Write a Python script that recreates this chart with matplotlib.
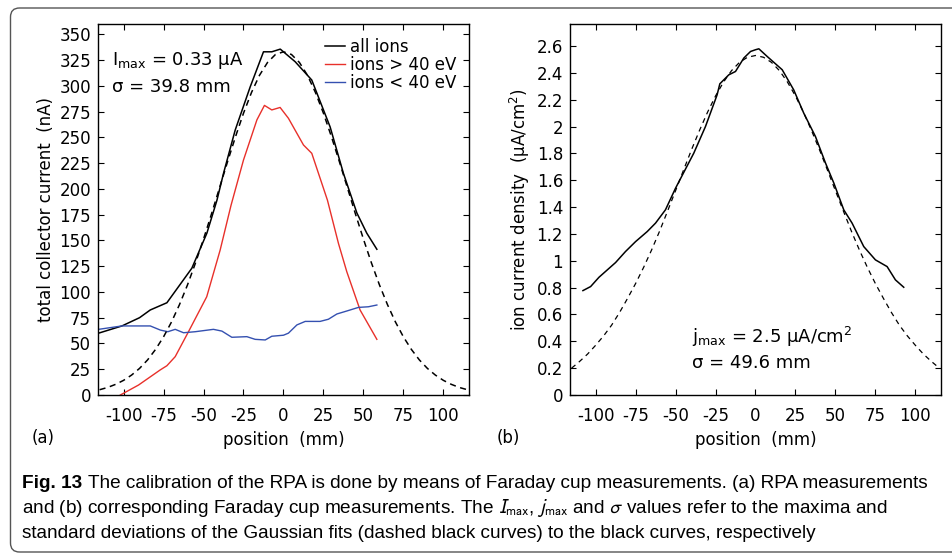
import matplotlib
matplotlib.use("Agg")
import matplotlib.pyplot as plt
from matplotlib.patches import FancyBboxPatch
from matplotlib.transforms import IdentityTransform

# ---- panel (a): RPA measurements ----
a_all_x = [-115.6, -101, -90, -83.3, -72.9, -57.3, -47.9, -41.6, -37.5, -30.2, -20.8,
           -12.5, -7.3, -2, 7.3, 17.7, 29.2, 37.5, 45.9, 52.1, 58.4]
a_all_y = [60, 67, 75, 82.5, 89.5, 123, 157, 189, 215, 257, 299,
           333, 333, 335.6, 323.4, 305.6, 260, 215, 176.6, 157, 141.4]

a_hi_x = [-102, -90.6, -77.1, -72.9, -67.7, -59.4, -48, -39.6, -32.8, -25, -16.6, -11.9,
          -7.3, -2.1, 3.1, 12.5, 17.7, 27.5, 34.4, 39.6, 47.9, 58.4]
a_hi_y = [0, 9.7, 24.3, 28.4, 37.2, 61.4, 95.3, 140.6, 184, 228, 267, 281,
          276.6, 279, 268.5, 242.6, 234.5, 189, 147, 119.6, 82.5, 54]

a_lo_x = [-115.6, -101, -83.3, -77, -72.3, -67.7, -62.5, -55.2, -43.8, -38.5, -32.3,
          -22.9, -17.7, -11.4, -7.3, 0, 3.1, 8.4, 13.6, 22.9, 28.1, 33.4, 39.6, 46.9,
          53.1, 58.4]
a_lo_y = [63.7, 67, 67, 63, 61.4, 63.7, 60.4, 61.4, 63.7, 62, 56,
          56.6, 54, 53.4, 57, 58, 60, 68, 71.4, 71.4, 73.5, 78.6, 81.5, 85,
          85.6, 87.3]

fit_x = [-115, -110, -105, -100, -95, -90, -85, -80, -75, -70, -65, -60, -55, -50,
         -45, -40, -35, -30, -25, -20, -15, -10, -5, 0, 5, 10, 15, 20, 25, 30, 35,
         40, 45, 50, 55, 60, 65, 70, 75, 80, 85, 90, 95, 100, 105, 110, 115]
a_fit_y = [5.1, 7.3, 10.3, 14.2, 19.3, 25.8, 34.0, 44.2, 56.4, 70.9, 87.8, 106.9, 128.2,
           151.3, 175.7, 201.0, 226.2, 250.6, 273.4, 293.5, 310.2, 322.6, 330.4, 333,
           330.4, 322.6, 310.2, 293.5, 273.4, 250.6, 226.2, 201.0, 175.7, 151.3, 128.2,
           106.9, 87.8, 70.9, 56.4, 44.2, 34.0, 25.8, 19.3, 14.2, 10.3, 7.3, 5.1]

# ---- panel (b): Faraday cup measurements ----
b_x = [-107.9, -103.1, -97.9, -87.5, -81.3, -75, -67.7, -62.5, -56.3, -50, -38.6, -31.3,
       -24, -22.3, -16.7, -12.5, -7.3, -3.1, 0, 2.1, 7.3, 16.7, 23.9, 30.2, 37.5, 43.8,
       49, 55.2, 60.4, 67.7, 75, 82.3, 87.5, 92.7]
b_y = [0.778, 0.808, 0.877, 0.987, 1.069, 1.143, 1.218, 1.281, 1.380, 1.541, 1.802, 2.0,
       2.237, 2.319, 2.386, 2.411, 2.511, 2.560, 2.573, 2.58, 2.523, 2.424, 2.274, 2.100,
       1.926, 1.728, 1.579, 1.380, 1.281, 1.106, 1.007, 0.957, 0.858, 0.803]
b_fit_y = [0.2, 0.25, 0.305, 0.37, 0.44, 0.52, 0.615, 0.72, 0.83, 0.95, 1.08, 1.22,
           1.37, 1.522, 1.676, 1.828, 1.972, 2.107, 2.228, 2.332, 2.417, 2.479, 2.517,
           2.53, 2.517, 2.479, 2.417, 2.332, 2.228, 2.107, 1.972, 1.828, 1.676, 1.522,
           1.37, 1.22, 1.08, 0.95, 0.83, 0.72, 0.615, 0.52, 0.44, 0.37, 0.305, 0.25,
           0.2]

xticks = [-100, -75, -50, -25, 0, 25, 50, 75, 100]
a_yticks = list(range(0, 351, 25))
b_yticks = [0, 0.2, 0.4, 0.6, 0.8, 1, 1.2, 1.4, 1.6, 1.8, 2, 2.2, 2.4, 2.6]

fs = 12
afs = 13
plt.rcParams['font.family'] = 'DejaVu Sans'

fig = plt.figure(figsize=(9.53, 5.55), dpi=100)
axa = fig.add_axes([0.1028, 0.2883, 0.3893, 0.6685])
axb = fig.add_axes([0.5981, 0.2883, 0.3893, 0.6685])

for ax in (axa, axb):
    ax.set_xlim(-116, 116)
    ax.set_xticks(xticks)
    ax.set_xticklabels([str(t) for t in xticks])
    ax.tick_params(direction='in', top=True, right=True, length=4, width=0.8,
                   labelsize=fs)
    ax.tick_params(axis='x', pad=9)
    ax.tick_params(axis='y', pad=5)
    ax.set_xlabel('position  (mm)', fontsize=fs, labelpad=4)
    for s in ax.spines.values():
        s.set_linewidth(1.0)

axa.plot(a_all_x, a_all_y, color='black', lw=1.1, label='all ions')
axa.plot(a_hi_x, a_hi_y, color='#e8302a', lw=1.0, label='ions > 40 eV')
axa.plot(a_lo_x, a_lo_y, color='#3450b0', lw=1.0, label='ions < 40 eV')
axa.plot(fit_x, a_fit_y, color='black', lw=1.1, ls=(0, (4, 3)))
axa.set_ylim(0, 360)
axa.set_yticks(a_yticks)
axa.set_ylabel('total collector current  (nA)', fontsize=fs, labelpad=3)
axa.legend(loc='upper right', bbox_to_anchor=(0.975, 0.972), frameon=False, fontsize=12,
           handlelength=1.2, handletextpad=0.3, labelspacing=0.0,
           borderaxespad=0.0, borderpad=0.2)
axa.text(0.038, 0.889, r'I$_{\rm max}$ = 0.33 µA', transform=axa.transAxes,
         fontsize=afs, va='baseline', ha='left', math_fontfamily='dejavusans')
axa.text(0.038, 0.817, 'σ = 39.8 mm', transform=axa.transAxes,
         fontsize=afs, va='baseline', ha='left')

axb.plot(b_x, b_y, color='black', lw=1.1)
axb.plot(fit_x, b_fit_y, color='black', lw=0.9, ls=(0, (4, 3.5)))
axb.set_ylim(0, 2.765)
axb.set_yticks(b_yticks)
axb.set_yticklabels(['%g' % t for t in b_yticks])
axb.set_ylabel('ion current density  (µA/cm$^2$)', fontsize=fs, labelpad=3,
               math_fontfamily='dejavusans')
axb.text(0.328, 0.141, r'j$_{\rm max}$ = 2.5 µA/cm$^2$', transform=axb.transAxes,
         fontsize=afs, va='baseline', ha='left', math_fontfamily='dejavusans')
axb.text(0.328, 0.072, 'σ = 49.6 mm', transform=axb.transAxes,
         fontsize=afs, va='baseline', ha='left')

fig.text(32 / 953, 1 - 438 / 555, '(a)', fontsize=fs, va='center', ha='left')
fig.text(497 / 953, 1 - 438 / 555, '(b)', fontsize=fs, va='center', ha='left')

# caption
cap_font = ['Liberation Sans', 'DejaVu Sans']
cfs = 13.7
t0 = fig.text(22 / 953, 1 - 483 / 555, 'Fig. 13', fontsize=cfs, fontweight='bold',
              family=cap_font, va='center', ha='left')
axa.annotate('The calibration of the RPA is done by means of Faraday cup measurements. '
             '(a) RPA measurements', xy=(1, 0), xycoords=t0, xytext=(4, 0),
             textcoords='offset points', va='bottom', ha='left', fontsize=cfs,
             family=cap_font, annotation_clip=False)
fig.text(22 / 953, 1 - 508 / 555,
         r'and (b) corresponding Faraday cup measurements. The $I_{\mathrm{max}}$, '
         r'$j_{\mathrm{max}}$ and $\sigma$ values refer to the maxima and',
         fontsize=cfs, family=cap_font, va='center', ha='left', math_fontfamily='stixsans')
fig.text(22 / 953, 1 - 533 / 555,
         'standard deviations of the Gaussian fits (dashed black curves) to the black '
         'curves, respectively', fontsize=cfs, family=cap_font, va='center', ha='left')

# rounded frame around the figure
fig.patches.append(FancyBboxPatch((10.5, 3), 980, 544, boxstyle='round,pad=0,rounding_size=9',
                                  transform=IdentityTransform(), fill=False,
                                  edgecolor='#555555', lw=1.0, figure=fig))

fig.savefig('out.png', dpi=100)
